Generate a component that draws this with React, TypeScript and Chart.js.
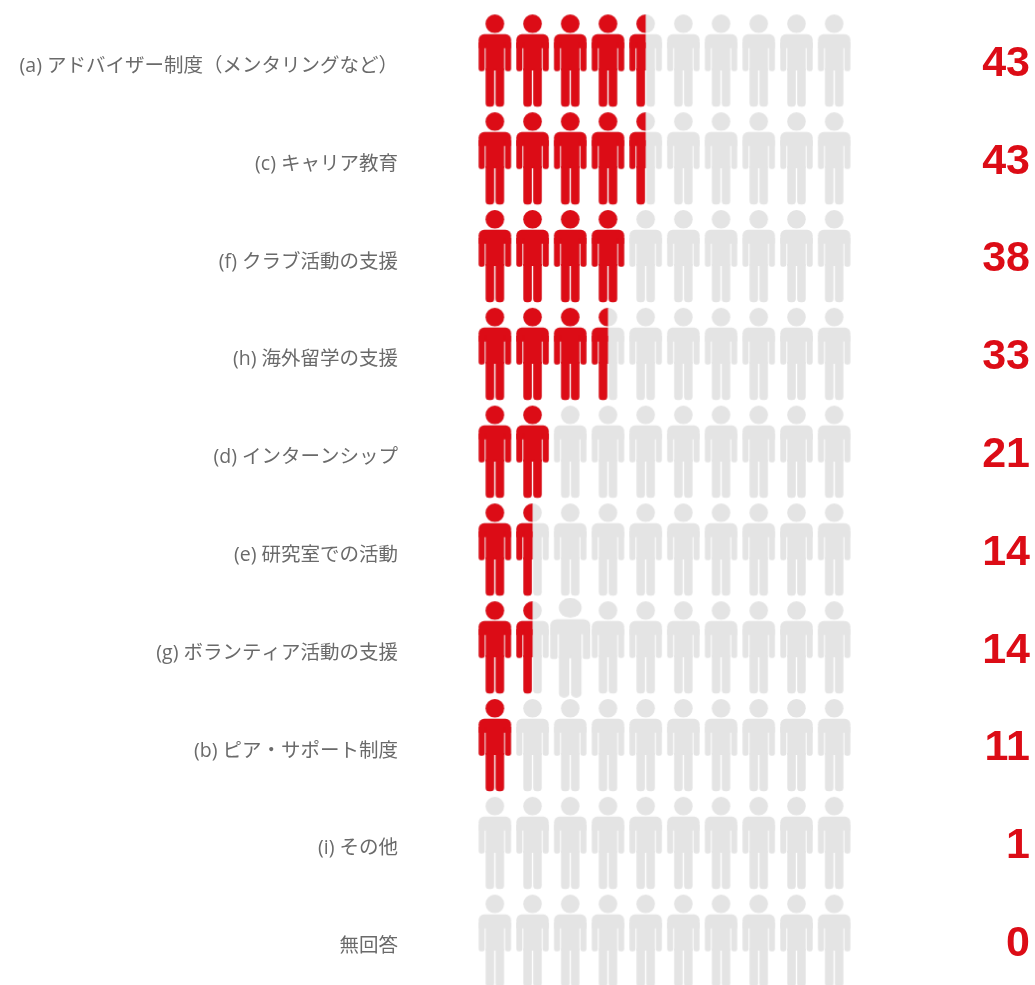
import React, { useEffect, useRef } from "react";
import { Chart, registerables } from "chart.js";

Chart.register(...registerables);

const categories = [
  "(a) アドバイザー制度（メンタリングなど）",
  "(c) キャリア教育",
  "(f) クラブ活動の支援",
  "(h) 海外留学の支援",
  "(d) インターンシップ",
  "(e) 研究室での活動",
  "(g) ボランティア活動の支援",
  "(b) ピア・サポート制度",
  "(i) その他",
  "無回答",
];
const percentValues = [43, 43, 38, 33, 21, 14, 14, 11, 1, 0];
const peopleFilled = [4.5, 4.5, 4, 3.5, 2, 1.5, 1.5, 1, 0, 0];
const peoplePerRow = 10;
const hoveredRow = 6;
const hoveredPerson = 2;

const RED = "#dc0c16";
const GREY = "#e4e4e4";
const TEXT = "#6a6a6a";

const W = 33;
const H = 93;

function drawPerson(ctx: CanvasRenderingContext2D, color: string) {
  ctx.fillStyle = color;
  // head
  ctx.beginPath();
  ctx.arc(0, 9.3, 9.3, 0, Math.PI * 2);
  ctx.fill();
  // shoulders
  ctx.beginPath();
  ctx.roundRect(-16.2, 19.8, 32.4, 14, [5.5, 5.5, 0, 0]);
  ctx.fill();
  // arms
  ctx.beginPath();
  ctx.roundRect(-16.2, 28, 6, 28.8, [0, 0, 2.4, 2.4]);
  ctx.roundRect(10.2, 28, 6, 28.8, [0, 0, 2.4, 2.4]);
  ctx.fill();
  // torso
  ctx.fillRect(-9.2, 28, 18.4, 28);
  // legs
  ctx.beginPath();
  ctx.roundRect(-9.2, 54, 8.5, 38.3, [0, 0, 3.6, 3.6]);
  ctx.roundRect(0.7, 54, 8.5, 38.3, [0, 0, 3.6, 3.6]);
  ctx.fill();
}

function personImage(color: string, half = false) {
  const c = document.createElement("canvas");
  c.width = W + 2;
  c.height = H + 2;
  const ctx = c.getContext("2d")!;
  if (half) {
    ctx.beginPath();
    ctx.rect(0, 0, c.width / 2, c.height);
    ctx.clip();
  }
  ctx.translate(c.width / 2, 1);
  drawPerson(ctx, color);
  return c;
}

// The one enlarged figure in the reference is stretched around its row centre.
function enlargedImage(color: string) {
  const c = document.createElement("canvas");
  c.width = 44;
  c.height = 100;
  const ctx = c.getContext("2d")!;
  ctx.translate(22, 0);
  ctx.scale(1.23, 1.08);
  drawPerson(ctx, color);
  return c;
}

const fitAxis = (width: number) => (s: any) => {
  s.width = width;
  s.paddingTop = 0;
  s.paddingBottom = 0;
};

export default function App() {
  const ref = useRef<HTMLCanvasElement>(null);

  useEffect(() => {
    document.body.style.margin = "0";
    const greyPts: { x: number; y: string }[] = [];
    const bigPts: { x: number; y: string }[] = [];
    const fullPts: { x: number; y: string }[] = [];
    const halfPts: { x: number; y: string }[] = [];
    categories.forEach((cat, r) => {
      const filled = peopleFilled[r];
      for (let i = 0; i < peoplePerRow; i++) {
        const p = { x: i * 10 + 5, y: cat };
        if (r === hoveredRow && i === hoveredPerson) bigPts.push(p);
        else greyPts.push(p);
        if (i + 1 <= filled) fullPts.push(p);
        else if (i + 0.5 === filled) halfPts.push(p);
      }
    });

    const chart = new Chart(ref.current!, {
      type: "scatter",
      data: {
        labels: categories,
        datasets: [
          { label: "full", data: fullPts as any, pointStyle: personImage(RED) as any, pointRadius: 16 },
          { label: "half", data: halfPts as any, pointStyle: personImage(RED, true) as any, pointRadius: 16 },
          { label: "grey", data: greyPts as any, pointStyle: personImage(GREY) as any, pointRadius: 16 },
          { label: "enlarged", data: bigPts as any, pointStyle: enlargedImage(GREY) as any, pointRadius: 16 },
        ],
      },
      options: {
        animation: false,
        responsive: false,
        clip: false as any,
        events: [],
        layout: { autoPadding: false, padding: { top: 12, bottom: 10, left: 0, right: 5 } },
        plugins: { legend: { display: false }, tooltip: { enabled: false } },
        scales: {
          x: { type: "linear", min: 0, max: 100, display: false },
          y: {
            type: "category",
            labels: categories,
            reverse: false,
            offset: true,
            position: "left",
            grid: { display: false, drawTicks: false },
            border: { display: false },
            afterFit: fitAxis(476),
            ticks: {
              autoSkip: false,
              padding: 78,
              labelOffset: 5.5,
              color: TEXT,
              font: { family: '"Open Sans", "Noto Sans CJK JP", sans-serif', size: 19.5 },
            },
          },
          y2: {
            type: "category",
            labels: percentValues.map(String),
            reverse: false,
            offset: true,
            position: "right",
            grid: { display: false, drawTicks: false },
            border: { display: false },
            afterFit: fitAxis(177),
            ticks: {
              autoSkip: false,
              padding: 129,
              crossAlign: "far",
              labelOffset: 3,
              color: RED,
              font: { family: '"Liberation Sans", Arial, sans-serif', size: 43, weight: "bold" },
            },
          },
        },
      },
    });
    return () => chart.destroy();
  }, []);

  return (
    <div style={{ width: 1035, height: 985, overflow: "hidden" }}>
      <canvas ref={ref} width={1035} height={1000} style={{ display: "block" }} />
    </div>
  );
}
